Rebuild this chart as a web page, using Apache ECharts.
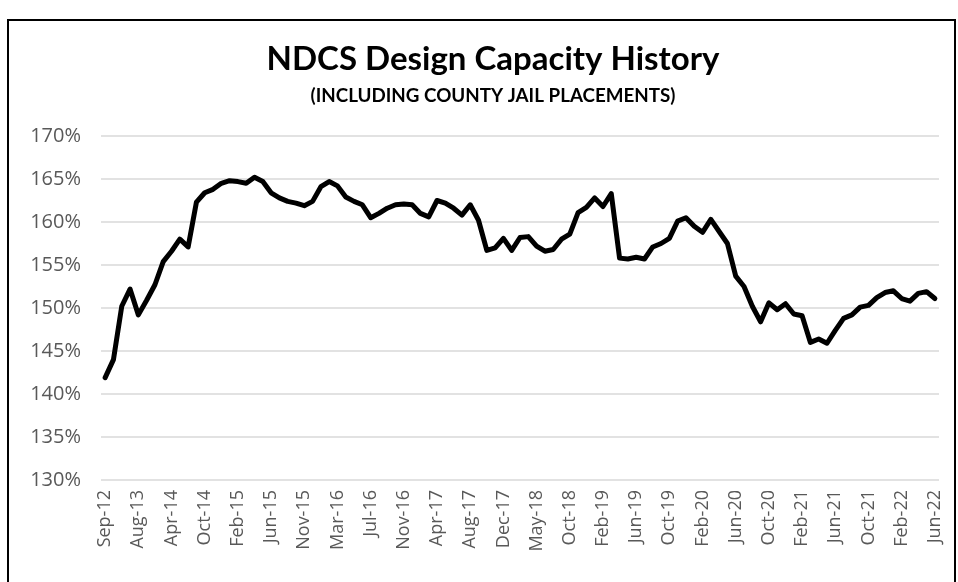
<!DOCTYPE html>
<html>
<head>
<meta charset="utf-8">
<script src="https://cdn.jsdelivr.net/npm/echarts@6/dist/echarts.min.js"></script>
<style>
  html, body { margin: 0; padding: 0; background: #fff; }
  #chart { width: 958px; height: 582px; }
</style>
</head>
<body>
<div id="chart"></div>
<script>
// months (data is not monthly before 2019, only every 4th label shows)
var months = [
  'Sep-12', 'Dec-12', 'Mar-13', 'Jun-13', 'Aug-13', 'Oct-13', 'Dec-13', 'Feb-14',
  'Apr-14', 'May-14', 'Jul-14', 'Sep-14', 'Oct-14', 'Nov-14', 'Dec-14', 'Jan-15',
  'Feb-15', 'Mar-15', 'Apr-15', 'May-15', 'Jun-15', 'Jul-15', 'Aug-15', 'Oct-15',
  'Nov-15', 'Dec-15', 'Jan-16', 'Feb-16', 'Mar-16', 'Apr-16', 'May-16', 'Jun-16',
  'Jul-16', 'Aug-16', 'Sep-16', 'Oct-16', 'Nov-16', 'Dec-16', 'Jan-17', 'Mar-17',
  'Apr-17', 'May-17', 'Jun-17', 'Jul-17', 'Aug-17', 'Sep-17', 'Oct-17', 'Nov-17',
  'Dec-17', 'Jan-18', 'Feb-18', 'Apr-18', 'May-18', 'Jun-18', 'Jul-18', 'Sep-18',
  'Oct-18', 'Nov-18', 'Dec-18', 'Jan-19', 'Feb-19', 'Mar-19', 'Apr-19', 'May-19',
  'Jun-19', 'Jul-19', 'Aug-19', 'Sep-19', 'Oct-19', 'Nov-19', 'Dec-19', 'Jan-20',
  'Feb-20', 'Mar-20', 'Apr-20', 'May-20', 'Jun-20', 'Jul-20', 'Aug-20', 'Sep-20',
  'Oct-20', 'Nov-20', 'Dec-20', 'Jan-21', 'Feb-21', 'Mar-21', 'Apr-21', 'May-21',
  'Jun-21', 'Jul-21', 'Aug-21', 'Sep-21', 'Oct-21', 'Nov-21', 'Dec-21', 'Jan-22',
  'Feb-22', 'Mar-22', 'Apr-22', 'May-22', 'Jun-22'
];

// design capacity, percent
var capacity = [
  141.9, 144.0, 150.2, 152.2, 149.2, 150.9, 152.7, 155.4, 156.6, 158.0,
  157.1, 162.3, 163.4, 163.8, 164.5, 164.8, 164.7, 164.5, 165.2, 164.7,
  163.4, 162.8, 162.4, 162.2, 161.9, 162.4, 164.1, 164.7, 164.2, 162.9,
  162.4, 162.0, 160.5, 161.0, 161.6, 162.0, 162.1, 162.0, 161.0, 160.6,
  162.5, 162.2, 161.6, 160.8, 162.0, 160.2, 156.7, 157.0, 158.1, 156.7,
  158.2, 158.3, 157.2, 156.6, 156.8, 158.0, 158.6, 161.1, 161.7, 162.8,
  161.8, 163.3, 155.8, 155.7, 155.9, 155.7, 157.1, 157.5, 158.1, 160.1,
  160.5, 159.5, 158.8, 160.3, 158.9, 157.5, 153.7, 152.5, 150.2, 148.4,
  150.6, 149.8, 150.5, 149.3, 149.1, 146.0, 146.4, 145.9, 147.4, 148.8,
  149.2, 150.1, 150.3, 151.2, 151.8, 152.0, 151.1, 150.8, 151.7, 151.9,
  151.1
];

var yMin = 130, yMax = 170, yStep = 5;

var myChart = echarts.init(document.getElementById('chart'));
var option = {
  backgroundColor: '#fff',
  animation: false,
  title: {
    text: 'NDCS Design Capacity History',
    subtext: '(INCLUDING COUNTY JAIL PLACEMENTS)',
    left: 488,
    textAlign: 'center',
    top: 38,
    itemGap: 10,
    textStyle: {
      fontFamily: 'Lato',
      fontWeight: 'bold',
      fontSize: 33,
      color: '#000'
    },
    subtextStyle: {
      fontFamily: 'Lato',
      fontWeight: 'bold',
      fontSize: 18.8,
      color: '#000'
    }
  },
  // outer frame of the chart
  graphic: [{
    type: 'rect',
    shape: { x: 8, y: 20, width: 947, height: 600 },
    style: { fill: 'none', stroke: '#000', lineWidth: 2 },
    silent: true
  }],
  grid: {
    left: 101,
    right: 19,
    top: 136,
    bottom: 102
  },
  xAxis: {
    type: 'category',
    data: months,
    boundaryGap: true,
    axisLine: { show: false },
    axisTick: { show: false },
    axisLabel: {
      interval: 3,
      rotate: 90,
      margin: 10,
      fontFamily: 'Open Sans',
      fontSize: 18,
      color: '#595959'
    }
  },
  yAxis: {
    type: 'value',
    min: yMin,
    max: yMax,
    interval: yStep,
    axisLine: { show: false },
    axisTick: { show: false },
    axisLabel: {
      formatter: '{value}%',
      margin: 20,
      fontFamily: 'Open Sans',
      fontSize: 20,
      color: '#595959'
    },
    splitLine: {
      lineStyle: { color: '#d9d9d9', width: 1.5 }
    }
  },
  series: [{
    type: 'line',
    data: capacity,
    symbol: 'none',
    lineStyle: {
      color: '#000',
      width: 5,
      join: 'round',
      cap: 'round'
    }
  }]
};
myChart.setOption(option);
</script>
</body>
</html>
